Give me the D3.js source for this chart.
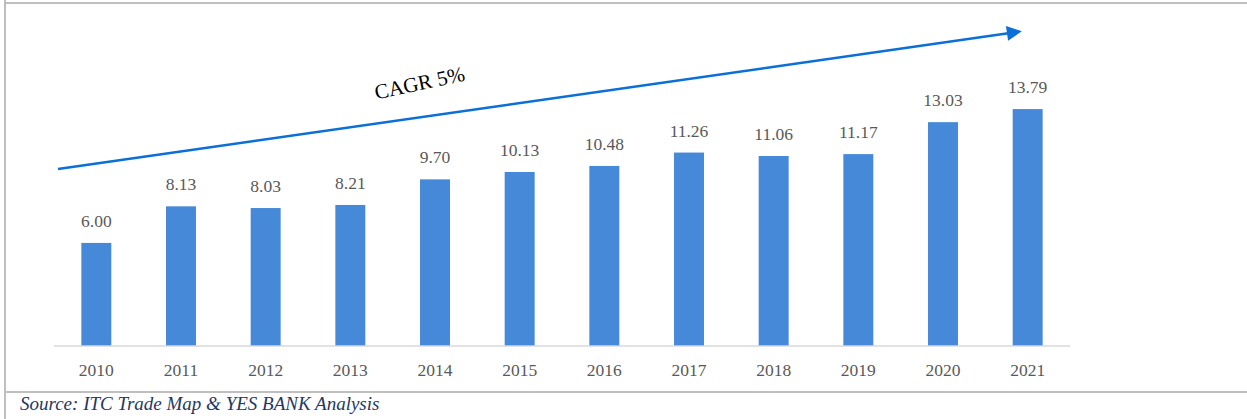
<!DOCTYPE html>
<html>
<head>
<meta charset="utf-8">
<script src="https://cdn.jsdelivr.net/npm/d3@7"></script>
<style>
  body { margin: 0; background: #fff; }
  svg { display: block; }
</style>
</head>
<body>
<div id="container"></div>
<script>
var width = 1247,
    height = 419;

var years = ["2010", "2011", "2012", "2013", "2014", "2015", "2016", "2017", "2018", "2019", "2020", "2021"];
var values = [6.00, 8.13, 8.03, 8.21, 9.70, 10.13, 10.48, 11.26, 11.06, 11.17, 13.03, 13.79];
var cagrLabel = "CAGR 5%";
var sourceText = "Source: ITC Trade Map & YES BANK Analysis";

var serif = "'Book Antiqua', Palatino, 'Liberation Serif', serif";

var svg = d3.select("#container").append("svg")
    .attr("width", width)
    .attr("height", height);

// frame lines
svg.append("line").attr("x1", 5).attr("x2", 5).attr("y1", 0).attr("y2", height)
    .attr("stroke", "#bfbfbf").attr("stroke-width", 2);
svg.append("line").attr("x1", 5).attr("x2", width).attr("y1", 3).attr("y2", 3)
    .attr("stroke", "#bfbfbf").attr("stroke-width", 2);
svg.append("line").attr("x1", 5).attr("x2", width).attr("y1", 392).attr("y2", 392)
    .attr("stroke", "#bfbfbf").attr("stroke-width", 2);

var x = d3.scaleBand()
    .domain(years)
    .range([54, 1070])
    .paddingInner(0.646)
    .paddingOuter(0.323);

var y = d3.scaleLinear()
    .domain([0, 14])
    .range([346, 346 - 14 * 17.18]);

svg.selectAll(".bar")
    .data(values)
    .enter().append("rect")
    .attr("class", "bar")
    .attr("x", (d, i) => x(years[i]))
    .attr("y", d => y(d))
    .attr("width", x.bandwidth())
    .attr("height", d => y(0) - y(d))
    .attr("fill", "#4689d8");

svg.selectAll(".val")
    .data(values)
    .enter().append("text")
    .attr("class", "val")
    .attr("x", (d, i) => x(years[i]) + x.bandwidth() / 2)
    .attr("y", d => y(d) - 16)
    .attr("text-anchor", "middle")
    .attr("font-family", serif)
    .attr("font-size", 17.5)
    .attr("fill", "#595959")
    .text(d => d.toFixed(2));

var xAxis = svg.append("g")
    .attr("transform", "translate(0," + y(0) + ")")
    .call(d3.axisBottom(x).tickSize(0).tickPadding(18));
xAxis.select(".domain").attr("stroke", "#d9d9d9").attr("stroke-width", 1.5)
    .attr("d", "M54,0H1070");
xAxis.selectAll("text")
    .attr("font-family", serif)
    .attr("font-size", 17.5)
    .attr("fill", "#595959");

// CAGR arrow
svg.append("defs").append("marker")
    .attr("id", "arrow")
    .attr("viewBox", "0 0 10 10")
    .attr("refX", 2).attr("refY", 5)
    .attr("markerWidth", 7).attr("markerHeight", 6)
    .attr("orient", "auto")
    .append("path").attr("d", "M0,0L10,5L0,10Z").attr("fill", "#0a6fd6");

svg.append("line")
    .attr("x1", 58).attr("y1", 169)
    .attr("x2", 1010).attr("y2", 33)
    .attr("stroke", "#0a6fd6")
    .attr("stroke-width", 2.5)
    .attr("marker-end", "url(#arrow)");

svg.append("text")
    .attr("transform", "translate(421,90) rotate(-12)")
    .attr("text-anchor", "middle")
    .attr("font-family", serif)
    .attr("font-size", 21)
    .attr("fill", "#000")
    .text(cagrLabel);

svg.append("text")
    .attr("x", 20).attr("y", 410)
    .attr("font-family", serif)
    .attr("font-style", "italic")
    .attr("font-size", 19)
    .attr("fill", "#1f3864")
    .text(sourceText);
</script>
</body>
</html>
